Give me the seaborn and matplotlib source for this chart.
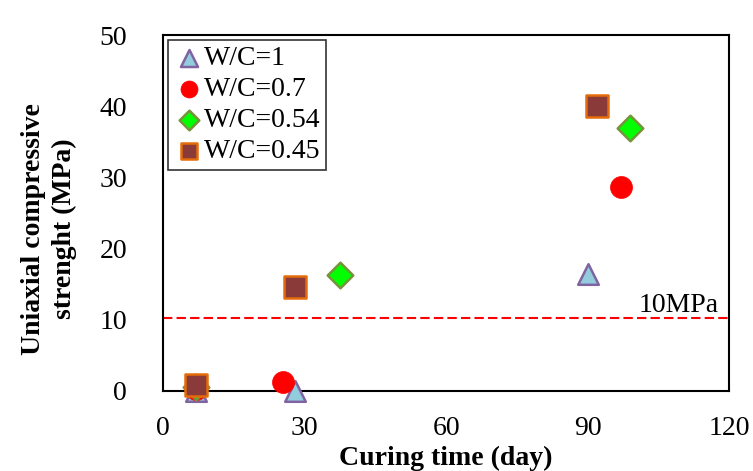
import matplotlib
matplotlib.use("Agg")
import matplotlib.pyplot as plt
import seaborn as sns
import pandas as pd

# Data
series_names = ["W/C=1", "W/C=0.7", "W/C=0.54", "W/C=0.45"]
days_wc1 = [7, 28, 90]
ucs_wc1 = [0.0, 0.0, 16.4]
days_wc07 = [7, 25.5, 97]
ucs_wc07 = [0.3, 1.3, 28.6]
days_wc054 = [7, 37.5, 99]
ucs_wc054 = [0.5, 16.3, 37.0]
days_wc045 = [7, 28, 92]
ucs_wc045 = [0.9, 14.6, 40.0]
threshold = 10.2
threshold_label = "10MPa"
x_ticks = [0, 30, 60, 90, 120]
y_ticks = [0, 10, 20, 30, 40, 50]

frames = []
for name, d, u in zip(series_names,
                      [days_wc1, days_wc07, days_wc054, days_wc045],
                      [ucs_wc1, ucs_wc07, ucs_wc054, ucs_wc045]):
    frames.append(pd.DataFrame({"day": d, "ucs": u, "series": name}))
df = pd.concat(frames, ignore_index=True)

sns.set_style("white")
plt.rcParams["font.family"] = ["Liberation Serif", "DejaVu Serif"]
plt.rcParams["text.color"] = "black"
plt.rcParams["axes.labelcolor"] = "black"

fig = plt.figure(figsize=(7.53, 4.71), dpi=100)
ax = fig.add_axes([0.2165, 0.170, 0.752, 0.7555])

styles = {
    "W/C=1": dict(marker="^", s=220, color="#93CDDD", edgecolor="#8064A2", linewidth=1.8),
    "W/C=0.7": dict(marker="o", s=250, color="#FF0000", edgecolor="#FF0000", linewidth=0.5),
    "W/C=0.54": dict(marker="D", s=170, color="#00FF00", edgecolor="#77933C", linewidth=1.8),
    "W/C=0.45": dict(marker="s", s=250, color="#8B3A3A", edgecolor="#E46C0A", linewidth=1.8),
}
leg_sizes = {"W/C=1": 150, "W/C=0.7": 150, "W/C=0.54": 100, "W/C=0.45": 130}
for name in series_names:
    sub = df[df["series"] == name]
    sns.scatterplot(data=sub, x="day", y="ucs", ax=ax, label=name, zorder=3,
                    clip_on=False, **styles[name])

ax.axhline(threshold, color="#FF0000", linestyle=(0, (4.5, 2)), linewidth=1.5, zorder=2)
ax.text(117.7, threshold + 0.85, threshold_label, ha="right", va="baseline",
        fontsize=20, color="black")

ax.set_xlim(0, 120)
ax.set_ylim(0, 50)
ax.set_xticks(x_ticks)
ax.set_yticks(y_ticks)
ax.tick_params(axis="both", direction="in", length=7, width=1.2, labelsize=20,
               color="black", labelcolor="black")
ax.tick_params(axis="x", pad=18)
ax.tick_params(axis="y", pad=26)
for sp in ax.spines.values():
    sp.set_visible(True)
    sp.set_color("black")
    sp.set_linewidth(1.5)

ax.set_xlabel("Curing time (day)", fontsize=20, fontweight="bold", color="black")
ax.xaxis.set_label_coords(0.5, -0.153)
ax.set_ylabel("Uniaxial compressive\nstrenght (MPa)", fontsize=20,
              fontweight="bold", linespacing=1.3, color="black")
ax.yaxis.set_label_coords(-0.152, 0.455)

leg = ax.legend(loc="upper left", bbox_to_anchor=(0.0, 1.0), fontsize=20,
                frameon=True, fancybox=False, edgecolor="black",
                handletextpad=0.0, borderpad=0.2, labelspacing=0.2,
                handlelength=1.1, borderaxespad=0.18)
leg.get_frame().set_linewidth(1.2)
for t in leg.get_texts():
    t.set_color("black")
for h, name in zip(leg.legend_handles, series_names):
    h.set_sizes([leg_sizes[name]])

fig.savefig("out.png", dpi=100)
